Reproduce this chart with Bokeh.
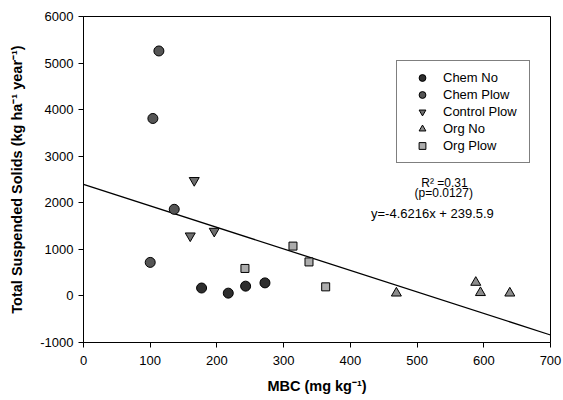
from bokeh.plotting import figure
from bokeh.models import Range1d, Legend, LegendItem, Label, FixedTicker
from bokeh.embed import file_html
from bokeh.resources import INLINE

# Data
chem_no_x = [177, 217, 243, 272]
chem_no_y = [170, 60, 210, 280]
chem_plow_x = [100, 104, 113, 136]
chem_plow_y = [720, 3810, 5260, 1860]
control_plow_x = [160, 166, 196]
control_plow_y = [1290, 2480, 1390]
org_no_x = [469, 588, 595, 639]
org_no_y = [60, 290, 70, 60]
org_plow_x = [242, 314, 338, 363]
org_plow_y = [590, 1070, 730, 195]
fit_x = [0, 700]
fit_y = [2396, -839]
x_ticks = [0, 100, 200, 300, 400, 500, 600, 700]
y_ticks = [-1000, 0, 1000, 2000, 3000, 4000, 5000, 6000]
y_tick_labels = ["-1000", "0", "1000", "2000", "3000", "4000", "5000", "6000"]

FONT = "Liberation Sans"

p = figure(width=563, height=400, output_backend="svg", toolbar_location=None,
           x_range=Range1d(0, 700), y_range=Range1d(-1000, 6000),
           min_border_left=83, min_border_right=13, min_border_top=16, min_border_bottom=58)
p.background_fill_color = "white"
p.border_fill_color = "white"
p.outline_line_color = "black"
p.outline_line_width = 1
p.grid.visible = False

for ax in (p.xaxis[0], p.yaxis[0]):
    ax.major_label_text_font = FONT
    ax.major_label_text_font_size = "13px"
    ax.major_label_text_color = "black"
    ax.axis_label_text_font = FONT
    ax.axis_label_text_font_size = "14.5px"
    ax.axis_label_text_font_style = "bold"
    ax.axis_label_text_color = "black"
    ax.major_tick_out = 5
    ax.major_tick_in = 0
    ax.minor_tick_out = 0
    ax.minor_tick_in = 0
    ax.axis_line_color = "black"
    ax.major_tick_line_color = "black"

p.xaxis.ticker = FixedTicker(ticks=x_ticks)
p.yaxis.ticker = FixedTicker(ticks=y_ticks)
p.yaxis.major_label_overrides = {t: s for t, s in zip(y_ticks, y_tick_labels)}
p.xaxis.axis_label = "MBC (mg kg\u207b\u00b9)"
p.yaxis.axis_label = "Total Suspended Solids (kg ha\u207b\u00b9 year\u207b\u00b9)"
p.xaxis.major_label_standoff = 8
p.yaxis.major_label_standoff = 5
p.xaxis.axis_label_standoff = 10
p.yaxis.axis_label_standoff = 12

p.line(fit_x, fit_y, line_color="black", line_width=1.3)

r1 = p.scatter(chem_no_x, chem_no_y, marker="circle", size=10,
               fill_color="#2e2e2e", line_color="black")
r2 = p.scatter(chem_plow_x, chem_plow_y, marker="circle", size=10,
               fill_color="#555555", line_color="black")
r3 = p.scatter(control_plow_x, control_plow_y, marker="inverted_triangle", size=10,
               fill_color="#6e6e6e", line_color="black")
r4 = p.scatter(org_no_x, org_no_y, marker="triangle", size=10,
               fill_color="#8c8c8c", line_color="black")
r5 = p.scatter(org_plow_x, org_plow_y, marker="square", size=8,
               fill_color="#acacac", line_color="black")

legend = Legend(items=[
    LegendItem(label="Chem No", renderers=[r1]),
    LegendItem(label="Chem Plow", renderers=[r2]),
    LegendItem(label="Control Plow", renderers=[r3]),
    LegendItem(label="Org No", renderers=[r4]),
    LegendItem(label="Org Plow", renderers=[r5]),
], location=(313, 179))
legend.label_text_font = FONT
legend.label_text_font_size = "13px"
legend.label_text_color = "black"
legend.padding = 8
legend.spacing = 0
legend.label_height = 17
legend.glyph_height = 17
legend.glyph_width = 34
legend.label_standoff = 4
legend.label_width = 78
legend.border_line_color = "black"
legend.border_line_width = 1
legend.background_fill_color = "white"
legend.background_fill_alpha = 1
legend.margin = 0
p.add_layout(legend, "center")

p.add_layout(Label(x=541, y=2420, text="R\u00b2 =0.31", text_font=FONT, text_font_size="12px",
                   text_align="center", text_baseline="middle", text_color="black"))
p.add_layout(Label(x=540, y=2200, text="(p=0.0127)", text_font=FONT, text_font_size="12px",
                   text_align="center", text_baseline="middle", text_color="black"))
p.add_layout(Label(x=523, y=1780, text="y=-4.6216x + 239.5.9", text_font=FONT, text_font_size="13px",
                   text_align="center", text_baseline="middle", text_color="black"))

open("out.html", "w").write(file_html(p, INLINE))
